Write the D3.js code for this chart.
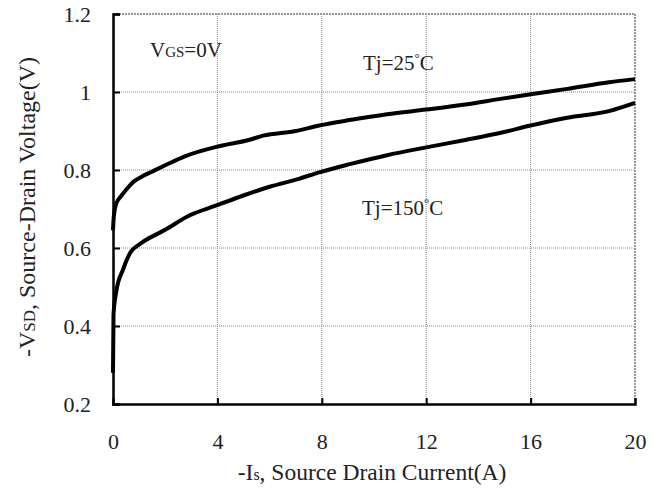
<!DOCTYPE html>
<html><head><meta charset="utf-8">
<script src="https://cdn.jsdelivr.net/npm/d3@7"></script>
<style>body{margin:0;background:#fff;} svg{display:block;} text{font-family:"Liberation Serif","Times New Roman",serif;fill:#222;}</style>
</head><body><svg id="c" width="659" height="491"></svg>
<script>
const xTicks = [0,4,8,12,16,20];
const yTicks = [0.2,0.4,0.6,0.8,1.0,1.2];
const yTickLabels = ["0.2","0.4","0.6","0.8","1","1.2"];
// Tj = 25°C : [Is (A), Vsd (V)]
const tj25 = [[0,0.645],[0.03,0.68],[0.13,0.715],[0.3,0.732],[0.51,0.75],[0.83,0.772],[1.1,0.783],[1.47,0.795],[2,0.812],[2.75,0.835],[4,0.86],[5.2,0.877],[5.75,0.888],[7,0.9],[7.9,0.914],[9.07,0.928],[10.5,0.943],[12,0.955],[13.5,0.968],[14.9,0.983],[16,0.994],[17.4,1.008],[19,1.025],[20,1.033]];
// Tj = 150°C
const tj150 = [[0,0.28],[0.02,0.43],[0.13,0.49],[0.38,0.544],[0.7,0.592],[0.96,0.607],[1.15,0.616],[1.98,0.646],[2.94,0.684],[3.96,0.709],[4.97,0.734],[6,0.757],[7.15,0.778],[7.9,0.794],[9.07,0.815],[10.5,0.838],[12,0.858],[13.5,0.877],[14.9,0.896],[16,0.914],[17.4,0.934],[19,0.951],[20,0.972]];

const L=113,R=635,T=14,B=404;
const svg=d3.select("#c");
const x=d3.scaleLinear().domain([0,20]).range([L,R]);
const y=d3.scaleLinear().domain([0.2,1.2]).range([B,T]);

// grid
const g=svg.append("g");
g.selectAll(".gx").data(xTicks.slice(1,-1)).enter().append("line")
 .attr("x1",d=>x(d)).attr("x2",d=>x(d)).attr("y1",T).attr("y2",B)
 .attr("stroke","#888").attr("stroke-width",1).attr("stroke-dasharray","1,1");
g.selectAll(".gy").data(yTicks.slice(1,-1)).enter().append("line")
 .attr("y1",d=>y(d)).attr("y2",d=>y(d)).attr("x1",L).attr("x2",R)
 .attr("stroke","#888").attr("stroke-width",1).attr("stroke-dasharray","1,1");
// top & right border
g.append("line").attr("x1",L).attr("x2",R).attr("y1",y(1.2)).attr("y2",y(1.2)).attr("stroke","#999").attr("stroke-width",2).attr("stroke-dasharray","2,1");
g.append("line").attr("x1",x(20)).attr("x2",x(20)).attr("y1",T).attr("y2",B).attr("stroke","#999").attr("stroke-width",2).attr("stroke-dasharray","2,1");

// axes
const xa=svg.append("g").attr("transform",`translate(0,${B})`)
 .call(d3.axisBottom(x).tickValues(xTicks).tickSize(-6).tickPadding(29).tickFormat(d3.format("d")));
const ya=svg.append("g").attr("transform",`translate(${L},0)`)
 .call(d3.axisLeft(y).tickValues(yTicks).tickSize(-7).tickPadding(22).tickFormat((d,i)=>yTickLabels[i]));
[xa,ya].forEach(a=>{
  a.select(".domain").attr("stroke","#000").attr("stroke-width",2.5);
  a.selectAll(".tick line").attr("stroke","#000").attr("stroke-width",2);
  a.selectAll(".tick text").attr("font-family","Liberation Serif").attr("font-size",22).attr("fill","#222");
});
xa.selectAll(".tick").filter(d=>d===0||d===20).select("line").remove();

// curves
const line=d3.line().x(d=>x(d[0])).y(d=>y(d[1])).curve(d3.curveMonotoneX);
[tj25,tj150].forEach(s=>{
  svg.append("path").datum(s).attr("d",line).attr("fill","none")
   .attr("stroke","#000").attr("stroke-width",4).attr("stroke-linejoin","round");
});

// annotations
const t1=svg.append("text").attr("x",150).attr("y",57).attr("font-size",21);
t1.append("tspan").text("V");
t1.append("tspan").attr("font-size",15).text("GS");
t1.append("tspan").text("=0V");

function tj(xp,yp,num){
  const t=svg.append("text").attr("x",xp).attr("y",yp).attr("font-size",21);
  t.append("tspan").text("Tj="+num);
  t.append("tspan").attr("font-size",13).attr("dy",-8).text("°");
  t.append("tspan").attr("dy",8).text("C");
}
tj(363,70,"25");
tj(362,215,"150");

// axis titles
const xt=svg.append("text").attr("x",372).attr("y",480).attr("text-anchor","middle").attr("font-size",23.5);
xt.append("tspan").text("-I");
xt.append("tspan").attr("font-size",16).text("s");
xt.append("tspan").text(", Source Drain Current(A)");

const yt=svg.append("text").attr("transform",`translate(35,207) rotate(-90)`).attr("text-anchor","middle").attr("font-size",24);
yt.append("tspan").text("-V");
yt.append("tspan").attr("font-size",17).text("SD");
yt.append("tspan").text(", Source-Drain Voltage(V)");
</script></body></html>
